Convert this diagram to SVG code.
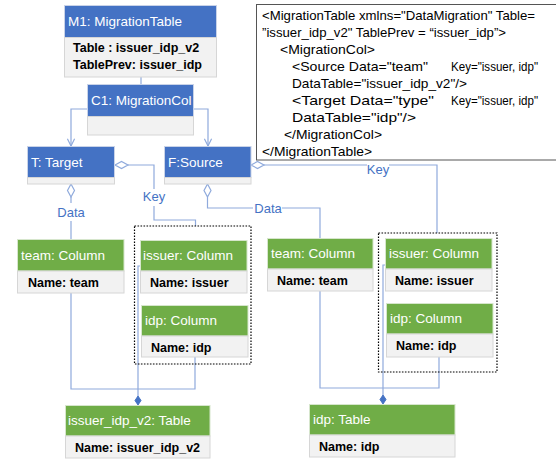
<svg xmlns="http://www.w3.org/2000/svg" width="556" height="460" viewBox="0 0 556 460">
<style>
text{font-family:"Liberation Sans",Arial,sans-serif}
.hb{fill:#4472C4;stroke:#C9D3E8;stroke-width:1}
.hg{fill:#70AD47;stroke:#D6E6CC;stroke-width:1}
.bd{fill:#F2F2F2;stroke:#D6D6D6;stroke-width:1}
.tt{fill:#fff;font-size:13.5px}
.bt{fill:#000;font-size:12.5px;font-weight:bold}
.cn{fill:none;stroke:#8FAADC;stroke-width:1.2}
.od{fill:#fff;stroke:#8FAADC;stroke-width:1.2}
.fd{fill:#4472C4;stroke:#4472C4;stroke-width:1}
.lb{fill:#4472C4;font-size:13px;text-anchor:middle}
.grp{fill:none;stroke:#000;stroke-width:1.2;stroke-dasharray:1.6 1.4}
.code{fill:#000;font-size:13px}
.key{fill:#000;font-size:12.3px}
</style>
<defs>
<marker id="arr" viewBox="0 0 10 10" refX="9" refY="5" markerWidth="9" markerHeight="9" markerUnits="userSpaceOnUse" orient="auto">
<path d="M1,1 L9,5 L1,9" fill="none" stroke="#8FAADC" stroke-width="1.3"/>
</marker>
</defs>

<g id="code-box">
<rect x="256.5" y="4.5" width="320" height="155.5" fill="#fff" stroke="#555" stroke-width="1"/>
<text class="code" x="262" y="20" textLength="273" lengthAdjust="spacingAndGlyphs">&lt;MigrationTable xmlns="DataMigration" Table=</text>
<text class="code" x="262" y="37" textLength="244" lengthAdjust="spacingAndGlyphs">”issuer_idp_v2" TablePrev = “issuer_idp”&gt;</text>
<text class="code" x="280" y="54" textLength="95" lengthAdjust="spacingAndGlyphs">&lt;MigrationCol&gt;</text>
<text class="code" x="292" y="71" textLength="136" lengthAdjust="spacingAndGlyphs">&lt;Source Data="team"</text>
<text class="key" x="451" y="71" textLength="87" lengthAdjust="spacingAndGlyphs">Key="issuer, idp"</text>
<text class="code" x="292" y="88" textLength="175" lengthAdjust="spacingAndGlyphs">DataTable="issuer_idp_v2"/&gt;</text>
<text class="code" x="292" y="105" textLength="142" lengthAdjust="spacingAndGlyphs">&lt;Target Data="type"</text>
<text class="key" x="451" y="105" textLength="87" lengthAdjust="spacingAndGlyphs">Key="issuer, idp"</text>
<text class="code" x="292" y="122" textLength="124" lengthAdjust="spacingAndGlyphs">DataTable="idp"/&gt;</text>
<text class="code" x="284" y="139" textLength="98" lengthAdjust="spacingAndGlyphs">&lt;/MigrationCol&gt;</text>
<text class="code" x="262" y="156" textLength="110" lengthAdjust="spacingAndGlyphs">&lt;/MigrationTable&gt;</text>
</g>

<g id="connectors">
<line class="cn" x1="141" y1="77" x2="141" y2="84"/>
<polyline class="cn" points="87,109 71,109 71,146" marker-end="url(#arr)"/>
<polyline class="cn" points="194,109 208,109 208,146" marker-end="url(#arr)"/>
<polyline class="cn" points="128,165 154,165 154,189"/>
<polyline class="cn" points="154,206 154,220 195.5,220 195.5,226"/>
<path class="od" d="M115,165 L121.5,161.5 L128,165 L121.5,168.5 Z"/>
<text class="lb" x="154" y="201">Key</text>
<line class="cn" x1="71" y1="197" x2="71" y2="203"/>
<line class="cn" x1="71" y1="221" x2="71" y2="239"/>
<path class="od" d="M71,184 L74.5,190.5 L71,197 L67.5,190.5 Z"/>
<text class="lb" x="71" y="217">Data</text>
<polyline class="cn" points="207.5,197 207.5,208 253,208"/>
<polyline class="cn" points="282,208 320,208 320,238"/>
<path class="od" d="M207.5,184 L211,190.5 L207.5,197 L204,190.5 Z"/>
<text class="lb" x="268" y="213">Data</text>
<line class="cn" x1="264" y1="165" x2="367" y2="165"/>
<polyline class="cn" points="389,165 437,165 437,233"/>
<path class="od" d="M251,165 L257.5,161.5 L264,165 L257.5,168.5 Z"/>
<text class="lb" x="378" y="174">Key</text>
<polyline class="cn" points="71,293 71,389 195,389 195,357"/>
<polyline class="cn" points="140,266 138,266 138,396"/>
<path class="fd" d="M138,396 L141,400.5 L138,405 L135,400.5 Z"/>
<polyline class="cn" points="320,291 320,388 439,388 439,357"/>
<polyline class="cn" points="385,265 383,265 383,395"/>
<path class="fd" d="M383,395 L386,399.5 L383,404 L380,399.5 Z"/>
</g>

<g id="M1">
<rect class="hb" x="64.5" y="5.5" width="152" height="32"/>
<rect class="bd" x="64.5" y="37.5" width="152" height="39.5"/>
<text class="tt" x="68" y="26">M1: MigrationTable</text>
<text class="bt" x="73" y="52">Table : issuer_idp_v2</text>
<text class="bt" x="73" y="69">TablePrev: issuer_idp</text>
</g>

<g id="C1">
<rect class="hb" x="87.5" y="84.5" width="106" height="32"/>
<rect class="bd" x="87.5" y="116.5" width="106" height="18.5"/>
<text class="tt" x="91" y="105">C1: MigrationCol</text>
</g>

<g id="T">
<rect class="hb" x="27.5" y="146.5" width="87" height="31"/>
<rect class="bd" x="27.5" y="177.5" width="87" height="6.5"/>
<text class="tt" x="31" y="167">T: Target</text>
</g>

<g id="F">
<rect class="hb" x="164.5" y="146.5" width="86.5" height="31"/>
<rect class="bd" x="164.5" y="177.5" width="86.5" height="6.5"/>
<text class="tt" x="168" y="167">F:Source</text>
</g>

<g id="keygroup-left">
<rect class="grp" x="134.5" y="226" width="116.5" height="138"/>
</g>
<g id="keygroup-right">
<rect class="grp" x="378.5" y="233" width="118.5" height="139"/>
</g>

<g id="team-left">
<rect class="hg" x="17.5" y="239.5" width="106.5" height="31.5"/>
<rect class="bd" x="17.5" y="271" width="106.5" height="22"/>
<text class="tt" x="21" y="260">team: Column</text>
<text class="bt" x="28" y="287">Name: team</text>
</g>

<g id="issuer-left">
<rect class="hg" x="140.5" y="240.5" width="106.5" height="30.5"/>
<rect class="bd" x="140.5" y="271" width="106.5" height="22"/>
<text class="tt" x="143" y="260">issuer: Column</text>
<text class="bt" x="150" y="287">Name: issuer</text>
</g>

<g id="idp-left">
<rect class="hg" x="141.5" y="305.5" width="106.5" height="30.5"/>
<rect class="bd" x="141.5" y="336" width="106.5" height="21"/>
<text class="tt" x="145" y="325">idp: Column</text>
<text class="bt" x="151" y="352">Name: idp</text>
</g>

<g id="team-right">
<rect class="hg" x="267.5" y="238.5" width="105.5" height="30.5"/>
<rect class="bd" x="267.5" y="269" width="105.5" height="22"/>
<text class="tt" x="271" y="258">team: Column</text>
<text class="bt" x="277" y="285">Name: team</text>
</g>

<g id="issuer-right">
<rect class="hg" x="385.5" y="238.5" width="106.5" height="30.5"/>
<rect class="bd" x="385.5" y="269" width="106.5" height="22"/>
<text class="tt" x="389" y="258">issuer: Column</text>
<text class="bt" x="395" y="285">Name: issuer</text>
</g>

<g id="idp-right">
<rect class="hg" x="386.5" y="303.5" width="106.5" height="30.5"/>
<rect class="bd" x="386.5" y="334" width="106.5" height="23"/>
<text class="tt" x="390" y="323">idp: Column</text>
<text class="bt" x="396" y="350">Name: idp</text>
</g>

<g id="issuer_idp_v2-table">
<rect class="hg" x="65.5" y="405.5" width="144.5" height="30.5"/>
<rect class="bd" x="65.5" y="436" width="144.5" height="22"/>
<text class="tt" x="68" y="425">issuer_idp_v2: Table</text>
<text class="bt" x="75" y="452">Name: issuer_idp_v2</text>
</g>

<g id="idp-table">
<rect class="hg" x="309.5" y="404.5" width="145.5" height="30.5"/>
<rect class="bd" x="309.5" y="435" width="145.5" height="22"/>
<text class="tt" x="313" y="424">idp: Table</text>
<text class="bt" x="319" y="451">Name: idp</text>
</g>
</svg>
